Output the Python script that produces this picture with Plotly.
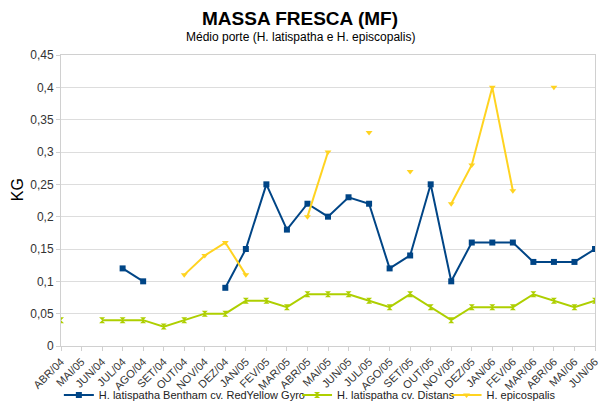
import plotly.graph_objects as go

categories = ["ABR/04", "MAI/05", "JUN/04", "JUL/04", "AGO/04", "SET/04", "OUT/04", "NOV/04",
              "DEZ/04", "JAN/05", "FEV/05", "MAR/05", "ABR/05", "MAI/05", "JUN/05", "JUL/05",
              "AGO/05", "SET/05", "OUT/05", "NOV/05", "DEZ/05", "JAN/06", "FEV/06", "MAR/06",
              "ABR/06", "MAI/06", "JUN/06"]

red_yellow = [None, None, None, 0.12, 0.10, None, None, None, 0.09, 0.15, 0.25, 0.18, 0.22, 0.20,
              0.23, 0.22, 0.12, 0.14, 0.25, 0.10, 0.16, 0.16, 0.16, 0.13, 0.13, 0.13, 0.15]
distans = [0.04, None, 0.04, 0.04, 0.04, 0.03, 0.04, 0.05, 0.05, 0.07, 0.07, 0.06, 0.08, 0.08,
           0.08, 0.07, 0.06, 0.08, 0.06, 0.04, 0.06, 0.06, 0.06, 0.08, 0.07, 0.06, 0.07]
epicospalis = [None, None, None, None, None, None, 0.11, 0.14, 0.16, 0.11, None, None, 0.20, 0.30,
               None, 0.33, None, 0.27, None, 0.22, 0.28, 0.40, 0.24, None, 0.40, None, None]

y_ticks = [0, 0.05, 0.1, 0.15, 0.2, 0.25, 0.3, 0.35, 0.4, 0.45]
y_tick_labels = ["0", "0,05", "0,1", "0,15", "0,2", "0,25", "0,3", "0,35", "0,4", "0,45"]

x = list(range(len(categories)))
font = "Liberation Sans, Arial, sans-serif"

fig = go.Figure()
fig.add_trace(go.Scatter(x=x, y=red_yellow, mode="lines+markers",
                         name="H. latispatha Bentham cv. RedYellow Gyro",
                         line=dict(color="#004586", width=2),
                         marker=dict(symbol="square", size=6, color="#004586"),
                         connectgaps=False, legend="legend"))
fig.add_trace(go.Scatter(x=x, y=distans, mode="lines+markers",
                         name="H. latispatha cv. Distans",
                         line=dict(color="#aecf00", width=2),
                         marker=dict(symbol="hourglass", size=6, color="#aecf00"),
                         connectgaps=False, legend="legend2"))
fig.add_trace(go.Scatter(x=x, y=epicospalis, mode="lines+markers",
                         name="H. epicospalis",
                         line=dict(color="#ffd320", width=2),
                         marker=dict(symbol="triangle-down", size=6, color="#ffd320"),
                         connectgaps=False, legend="legend3"))

leg_common = dict(orientation="h", xanchor="left", y=-0.168, yanchor="middle",
                  bgcolor="rgba(0,0,0,0)", font=dict(size=11, color="#222222"),
                  itemwidth=30)

fig.update_layout(
    width=600, height=401,
    margin=dict(l=61, r=5, t=55, b=55, autoexpand=False),
    paper_bgcolor="white", plot_bgcolor="white",
    font=dict(family=font, size=11, color="#333333"),
    showlegend=True,
    legend=dict(x=-0.004, **leg_common),
    legend2=dict(x=0.442, **leg_common),
    legend3=dict(x=0.722, **leg_common),
    annotations=[
        dict(text="<b>MASSA FRESCA (MF)</b>", xref="paper", yref="paper", x=0.448, y=1.124,
             xanchor="center", yanchor="middle", showarrow=False,
             font=dict(size=19, color="#000000", family=font)),
        dict(text="Médio porte (H. latispatha e H. episcopalis)", xref="paper", yref="paper",
             x=0.448, y=1.063, xanchor="center", yanchor="middle", showarrow=False,
             font=dict(size=12, color="#000000", family=font)),
        dict(text="KG", xref="paper", yref="paper", x=-0.082, y=0.536, textangle=-90,
             xanchor="center", yanchor="middle", showarrow=False,
             font=dict(size=16, color="#000000", family=font)),
    ],
    xaxis=dict(range=[0, 26], tickmode="array", tickvals=x, ticktext=categories,
               tickangle=-45, showgrid=False, showline=True, linecolor="#d0d0d0",
               ticks="outside", ticklen=4, tickcolor="#d0d0d0", mirror=True,
               ticklabeloverflow="allow",
               tickfont=dict(size=11, color="#333333"), zeroline=False),
    yaxis=dict(range=[0, 0.45], tickmode="array", tickvals=y_ticks, ticktext=y_tick_labels,
               showgrid=True, gridcolor="#dddddd", showline=True, linecolor="#d0d0d0",
               ticks="outside", ticklen=4, tickcolor="#d0d0d0", mirror=True, zeroline=False,
               tickfont=dict(size=12, color="#333333")),
)

fig.write_html("out.html", config={"displayModeBar": False},
               post_script="document.body.style.margin='0';document.body.style.padding='0';")
